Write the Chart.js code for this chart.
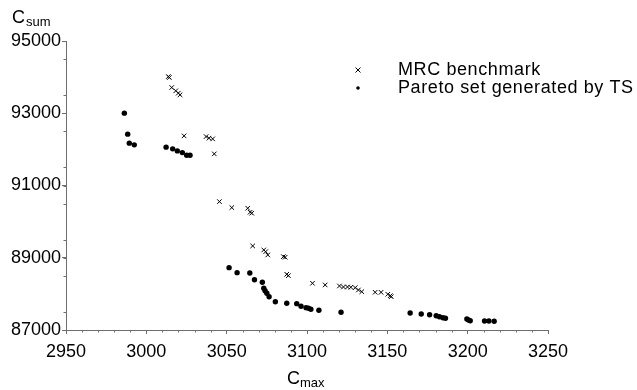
<!DOCTYPE html>
<html lang="en">
<head>
    <meta charset="UTF-8">
    <title>MRC benchmark vs TS Pareto set</title>
    <script src="https://cdn.jsdelivr.net/npm/chart.js"></script>
    <style>
        html, body {
            margin: 0;
            padding: 0;
            background: #fff;
        }

        #wrap {
            position: relative;
            width: 637px;
            height: 390px;
        }
    </style>
</head>
<body>
    <div id="wrap">
        <canvas id="paretoChart"></canvas>
    </div>

    <script>
        // MRC benchmark (crosses)
        const mrcCmax = [3013.7, 3014.3, 3015.8, 3018.3, 3019.9, 3021.0, 3023.5, 3037.2, 3039.0, 3041.3,
            3042.3, 3045.5, 3053.2, 3063.1, 3064.6, 3065.6, 3066.2, 3073.1, 3074.3, 3075.6,
            3085.3, 3086.4, 3087.4, 3088.4, 3103.4, 3111.3, 3120.2, 3122.7, 3125.2, 3127.3,
            3130.0, 3132.0, 3134.1, 3142.4, 3146.1, 3150.3, 3151.8, 3152.4];
        const mrcCsum = [94016, 93989, 93712, 93620, 93557, 93510, 92374, 92354, 92310, 92291,
            91875, 90554, 90388, 90371, 90260, 90233, 89327, 89216, 89169, 89078,
            89030, 89014, 88543, 88504, 88294, 88247, 88219, 88191, 88191, 88183,
            88172, 88108, 88061, 88044, 88044, 87989, 87950, 87922];

        // Pareto set generated by TS (dots)
        const tsCmax = [2986.3, 2988.4, 2989.4, 2992.5, 3012.3, 3016.4, 3019.3, 3022.4, 3025.1, 3027.2,
            3051.5, 3056.5, 3064.4, 3067.3, 3072.2, 3073.1, 3073.9, 3075.0, 3076.4, 3080.3,
            3087.4, 3093.6, 3096.3, 3099.4, 3100.9, 3102.4, 3107.4, 3121.2, 3164.2, 3171.1,
            3176.3, 3180.4, 3182.4, 3184.6, 3186.2, 3199.5, 3200.5, 3201.6, 3210.5, 3213.2, 3216.5];
        const tsCsum = [93003, 92421, 92172, 92125, 92061, 92014, 91958, 91911, 91839, 91839,
            88726, 88587, 88579, 88393, 88321, 88155, 88089, 88017, 87922, 87784,
            87740, 87729, 87656, 87618, 87601, 87573, 87546, 87490, 87471, 87443,
            87424, 87396, 87368, 87341, 87324, 87305, 87277, 87258, 87249, 87249, 87241];

        const seriesLabels = ['MRC benchmark', 'Pareto set generated by TS'];
        const xRange = [2950, 3250];
        const yRange = [87000, 95000];

        const toPoints = (xs, ys) => xs.map((x, i) => ({ x: x, y: ys[i] }));

        const axisGray = '#6e6e6e';
        const labelFont = { family: 'Liberation Sans, Arial, sans-serif', size: 18 };

        // minor ticks, axis titles with subscripts, legend
        const extras = {
            id: 'extras',
            afterDraw(chart) {
                const c = chart.ctx;
                const xs = chart.scales.x, ys = chart.scales.y;
                const area = chart.chartArea;

                c.save();
                c.strokeStyle = axisGray;
                c.lineWidth = 1;
                c.beginPath();
                for (let v = xRange[0]; v <= xRange[1]; v += 10) {
                    if (v % 50 === 0) continue;
                    const px = Math.round(xs.getPixelForValue(v)) + 0.5;
                    c.moveTo(px, area.bottom);
                    c.lineTo(px, area.bottom + 2.5);
                }
                for (let v = yRange[0]; v <= yRange[1]; v += 500) {
                    if (v % 2000 === 0) continue;
                    const py = Math.round(ys.getPixelForValue(v)) + 0.5;
                    c.moveTo(area.left, py);
                    c.lineTo(area.left - 2.5, py);
                }
                c.stroke();

                // axis titles
                c.fillStyle = '#000';
                c.textBaseline = 'alphabetic';
                c.textAlign = 'left';
                c.font = '18px Liberation Sans, Arial, sans-serif';
                c.fillText('C', 12, 23);
                c.fillText('C', 287, 384);
                c.font = '13px Liberation Sans, Arial, sans-serif';
                c.fillText('sum', 26, 26);
                c.fillText('max', 300, 387);

                // legend
                const ds = chart.data.datasets;
                const rows = [70, 88];
                c.font = '18px Liberation Sans, Arial, sans-serif';
                c.textBaseline = 'middle';
                c.letterSpacing = '0.6px';
                ds.forEach((d, i) => {
                    c.fillStyle = '#000';
                    c.fillText(d.label, 398, rows[i]);
                });
                c.letterSpacing = '0px';
                c.strokeStyle = '#000';
                c.lineWidth = 1;
                c.beginPath();
                c.moveTo(355.5, 67.5); c.lineTo(360.5, 72.5);
                c.moveTo(360.5, 67.5); c.lineTo(355.5, 72.5);
                c.stroke();
                c.beginPath();
                c.arc(358, 88, 1.8, 0, Math.PI * 2);
                c.fill();
                c.restore();
            }
        };

        const ctx = document.getElementById('paretoChart').getContext('2d');
        new Chart(ctx, {
            type: 'scatter',
            data: {
                datasets: [{
                    label: seriesLabels[0],
                    data: toPoints(mrcCmax, mrcCsum),
                    pointStyle: 'crossRot',
                    pointRadius: 3.2,
                    borderColor: '#000',
                    backgroundColor: '#000',
                    borderWidth: 1
                }, {
                    label: seriesLabels[1],
                    data: toPoints(tsCmax, tsCsum),
                    pointStyle: 'circle',
                    pointRadius: 2.7,
                    borderWidth: 0,
                    backgroundColor: '#000',
                    borderColor: '#000'
                }]
            },
            options: {
                responsive: true,
                maintainAspectRatio: false,
                animation: false,
                layout: {
                    padding: { top: 41, right: 89, left: 0, bottom: 0 }
                },
                scales: {
                    x: {
                        type: 'linear',
                        min: xRange[0],
                        max: xRange[1],
                        afterFit: (s) => { s.height = 60; },
                        border: { color: axisGray, width: 1 },
                        grid: {
                            drawOnChartArea: false,
                            tickLength: 4,
                            tickColor: axisGray
                        },
                        ticks: {
                            stepSize: 50,
                            color: '#000',
                            font: labelFont,
                            padding: 7,
                            maxRotation: 0,
                            callback: (v) => String(v)
                        }
                    },
                    y: {
                        type: 'linear',
                        min: yRange[0],
                        max: yRange[1],
                        afterFit: (s) => { s.width = 66; },
                        border: { color: axisGray, width: 1 },
                        grid: {
                            drawOnChartArea: false,
                            tickLength: 4,
                            tickColor: axisGray
                        },
                        ticks: {
                            stepSize: 2000,
                            color: '#000',
                            font: labelFont,
                            padding: 1,
                            callback: (v) => String(v)
                        }
                    }
                },
                plugins: {
                    legend: { display: false },
                    tooltip: { enabled: false }
                }
            },
            plugins: [extras]
        });
    </script>
</body>
</html>
